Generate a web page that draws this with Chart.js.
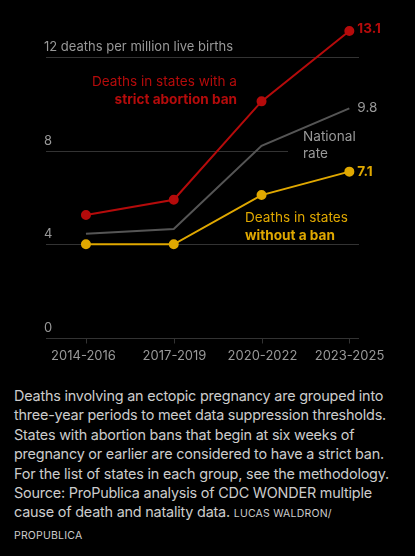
<!DOCTYPE html>
<html><head><meta charset="utf-8">
<script src="https://cdn.jsdelivr.net/npm/chart.js@4"></script>
<style>
body{margin:0;background:#000;width:415px;height:556px;overflow:hidden;font-family:Inter,Roboto,sans-serif}
#wrap{position:relative;width:415px;height:375px}
p{color:#ccc;font-size:14.4px;line-height:19.4px;margin:11px 0 0 14px;white-space:nowrap;letter-spacing:-0.2px}
small{font-size:10.5px;letter-spacing:0.2px}
</style></head><body>
<div id="wrap"><canvas id="c"></canvas></div>
<p>Deaths involving an ectopic pregnancy are grouped into<br>three-year periods to meet data suppression thresholds.<br>States with abortion bans that begin at six weeks of<br>pregnancy or earlier are considered to have a strict ban.<br>For the list of states in each group, see the methodology.<br>Source: ProPublica analysis of CDC WONDER multiple<br>cause of death and natality data. <small>LUCAS WALDRON/</small><br><small>PROPUBLICA</small></p>
<script>
const periods = ['2014-2016', '2017-2019', '2020-2022', '2023-2025'];
const strictBan = [5.25, 5.9, 10.1, 13.1];
const national = [4.45, 4.65, 8.2, 9.8];
const noBan = [4.0, 4.0, 6.1, 7.1];
const yTicks = [0, 4, 8, 12];

const RED = '#b50b0b', GRAY = '#555', YEL = '#e0a800';
const pts = arr => arr.map((v, i) => ({x: i, y: v}));

const overlay = {
  id: 'overlay',
  beforeDatasetsDraw(chart) {
    const {ctx, scales: {x, y}} = chart;
    ctx.save();
    ctx.strokeStyle = '#333'; ctx.lineWidth = 1;
    yTicks.forEach(t => {
      const py = Math.round(y.getPixelForValue(t)) + 0.5;
      const right = t === 8 ? 288 : x.right;
      ctx.beginPath(); ctx.moveTo(x.left, py); ctx.lineTo(right, py); ctx.stroke();
      ctx.fillStyle = '#999'; ctx.font = '13px Inter, Roboto, sans-serif';
      ctx.textBaseline = 'bottom'; ctx.textAlign = 'left';
      ctx.fillText(t === 12 ? '12 deaths per million live births' : String(t), x.left - 2, py - 4);
    });
    const by = Math.round(y.getPixelForValue(0)) + 0.5;
    periods.forEach((p, i) => {
      const px = Math.round(x.getPixelForValue(i)) + 0.5;
      ctx.beginPath(); ctx.moveTo(px, by); ctx.lineTo(px, by + 5); ctx.stroke();
      ctx.textAlign = 'center'; ctx.textBaseline = 'top'; ctx.fillStyle = '#999';
      ctx.fillText(p, px - (i === 0 ? 3 : 0), by + 11);
    });
    ctx.restore();
  },
  afterDatasetsDraw(chart) {
    const {ctx, scales: {x, y}} = chart;
    ctx.save();
    const f = (w) => w + ' 13.6px Inter, Roboto, sans-serif';
    ctx.textBaseline = 'middle';
    ctx.textAlign = 'left';
    ctx.font = f('bold'); ctx.fillStyle = RED;
    ctx.fillText(String(strictBan[3]), x.getPixelForValue(3) + 8, y.getPixelForValue(strictBan[3]) - 2);
    ctx.fillStyle = YEL;
    ctx.fillText(String(noBan[3]), x.getPixelForValue(3) + 8, y.getPixelForValue(noBan[3]));
    ctx.font = f('normal'); ctx.fillStyle = '#999';
    ctx.fillText(national[3].toFixed(1), x.getPixelForValue(3) + 8, y.getPixelForValue(national[3]));
    ctx.fillText('National', 303, 137); ctx.fillText('rate', 303, 154);
    ctx.textAlign = 'right';
    ctx.fillStyle = RED; ctx.fillText('Deaths in states with a', 237, 82);
    ctx.font = f('bold'); ctx.fillText('strict abortion ban', 237, 100);
    ctx.textAlign = 'left'; ctx.fillStyle = YEL;
    ctx.font = f('normal'); ctx.fillText('Deaths in states', 245, 218);
    ctx.font = f('bold'); ctx.fillText('without a ban', 245, 236);
    ctx.restore();
  }
};

new Chart(document.getElementById('c'), {
  type: 'line',
  data: {
    datasets: [
      {data: pts(national), borderColor: GRAY, borderWidth: 2, pointRadius: 0},
      {data: pts(noBan), borderColor: YEL, backgroundColor: YEL, borderWidth: 2, pointRadius: 4},
      {data: pts(strictBan), borderColor: RED, backgroundColor: RED, borderWidth: 2, pointRadius: 4}
    ]
  },
  options: {
    responsive: true, maintainAspectRatio: false, animation: false,
    layout: {padding: {left: 46, right: 56, top: 10, bottom: 37}},
    plugins: {legend: {display: false}, tooltip: {enabled: false}},
    scales: {
      x: {type: 'linear', min: -0.455, max: 3.11, display: false},
      y: {min: 0, max: 14, display: false}
    }
  },
  plugins: [overlay]
});
</script>
</body></html>
